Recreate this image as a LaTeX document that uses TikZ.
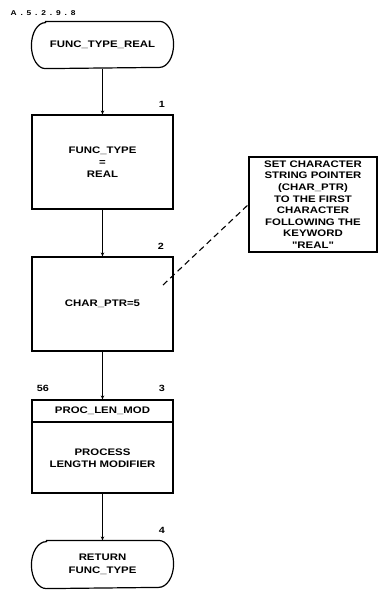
\documentclass[tikz,border=0pt]{standalone}
\usepackage{fontspec}
\newfontfamily\plotfont[FakeStretch=1.2]{Liberation Sans}
\usetikzlibrary{arrows.meta}
\begin{document}
\begin{tikzpicture}[x=1pt,y=-1pt,
  line width=1.2pt,
  txt/.style={font=\plotfont\bfseries\fontsize{9.5}{12}\selectfont, align=center, inner sep=0pt},
  boxshape/.style={draw, minimum width=141pt, inner sep=0pt},
  term/.style={minimum width=141pt, inner sep=0pt, align=center,
    font=\plotfont\bfseries\fontsize{9.5}{13}\selectfont},
  lbl/.style={font=\plotfont\bfseries\fontsize{9}{10}\selectfont, inner sep=0pt},
  flow/.style={-{Stealth[length=4pt,width=3.5pt]}},
  notebox/.style={draw, minimum width=128pt, minimum height=95pt, inner sep=0pt, align=center,
    font=\plotfont\bfseries\fontsize{9.5}{11.6}\selectfont}
]
\useasboundingbox (0,0) rectangle (379,590);

\node[anchor=west, font=\plotfont\bfseries\fontsize{7}{8}\selectfont\addfontfeature{LetterSpace=55}, inner sep=0pt] (title) at (10,13) {A.5.2.9.8};

% start terminal
\node[term, minimum height=46pt] (start) at (102.5,45) {FUNC\_TYPE\_REAL};
\draw ([xshift=14pt]start.north west) -- ([xshift=-14pt]start.north east)
  arc[start angle=90, end angle=-90, x radius=14pt, y radius=23pt]
  -- ([xshift=14pt]start.south west)
  arc[start angle=270, end angle=90, x radius=14pt, y radius=23pt] -- cycle;

% box 1
\node[boxshape, minimum height=94pt] (b1) at (102.5,162) {};
\node[txt] (b1t) at (b1.center) {FUNC\_TYPE\\=\\REAL};
\node[lbl] (l1) at (162,104) {1};

% box 2
\node[boxshape, minimum height=94pt] (b2) at (102.5,304) {};
\node[txt] (b2t) at (b2.center) {CHAR\_PTR=5};
\node[lbl] (l2) at (161,246) {2};

% box 3
\node[boxshape, minimum height=93pt] (b3) at (102.5,446.5) {};
\coordinate (h3l) at (32,422);
\coordinate (h3r) at (173,422);
\draw (h3l) -- (h3r);
\node[txt] (b3h) at (102.5,411) {PROC\_LEN\_MOD};
\node[txt] (b3t) at (102.5,458) {PROCESS\\LENGTH MODIFIER};
\node[lbl] (l56) at (43,388) {56};
\node[lbl] (l3) at (162,388) {3};

% end terminal
\node[term, minimum height=47pt] (stop) at (102.5,564.5) {RETURN\\FUNC\_TYPE};
\draw ([xshift=15pt]stop.north west) -- ([xshift=-15pt]stop.north east)
  arc[start angle=90, end angle=-90, x radius=15pt, y radius=23.5pt]
  -- ([xshift=15pt]stop.south west)
  arc[start angle=270, end angle=90, x radius=15pt, y radius=23.5pt] -- cycle;
\node[lbl] (l4) at (162,530) {4};

% note
\node[notebox] (note) at (313,204.5) {SET CHARACTER\\STRING POINTER\\(CHAR\_PTR)\\TO THE FIRST\\CHARACTER\\FOLLOWING THE\\KEYWORD\\"REAL"};
\coordinate (dashend) at (163,285);
\draw[dash pattern=on 6pt off 4pt, line width=1.1pt] (dashend) -- (note.west);

% connectors
\draw[flow] (start.south) -- (b1.north);
\draw[flow] (b1.south) -- (b2.north);
\draw[flow] (b2.south) -- (b3.north);
\draw[flow] (b3.south) -- (stop.north);
\end{tikzpicture}
\end{document}
